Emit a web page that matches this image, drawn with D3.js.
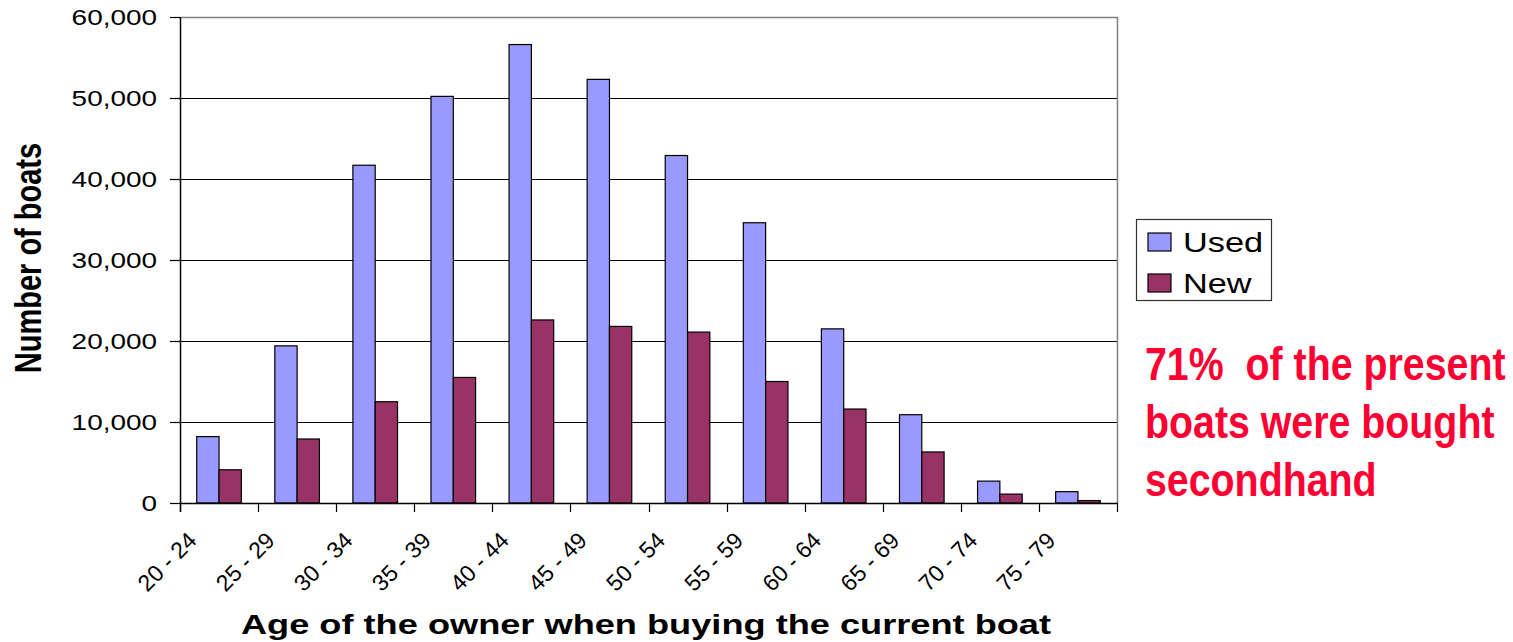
<!DOCTYPE html>
<html>
<head>
<meta charset="utf-8">
<script src="https://cdn.jsdelivr.net/npm/d3@7"></script>
<style>
  html, body { margin: 0; padding: 0; background: #fff; }
  svg { display: block; }
  text { font-family: Arial, "Liberation Sans", sans-serif; }
  .note { white-space: pre; }
</style>
</head>
<body>
<svg id="chart" width="1513" height="642"></svg>
<script>
// Boats by age of owner at purchase
const categories = ["20 - 24","25 - 29","30 - 34","35 - 39","40 - 44","45 - 49","50 - 54","55 - 59","60 - 64","65 - 69","70 - 74","75 - 79"];
const usedValues = [8200, 19400, 41700, 50200, 56600, 52300, 42900, 34600, 21500, 10900, 2700, 1400];
const newValues  = [4100, 7900, 12500, 15500, 22600, 21800, 21100, 15000, 11600, 6300, 1100, 300];
const seriesNames = ["Used", "New"];
const yTicks = [0, 10000, 20000, 30000, 40000, 50000, 60000];
const noteLines = ["71%  of the present", "boats were bought", "secondhand"];

const colors = { Used: "#9999FF", New: "#993366" };
const stretch = 1.27; // horizontal stretch of the chart's text

const svg = d3.select("#chart");
const plot = { left: 180, right: 1117, top: 17, bottom: 503 };

const x0 = d3.scaleBand().domain(categories).range([plot.left, plot.right]).paddingInner(0).paddingOuter(0);
const bw = x0.bandwidth();
const x1 = d3.scaleBand().domain(seriesNames).range([bw * 0.75 / 3.5, bw * 2.75 / 3.5]).padding(0);
const y = d3.scaleLinear().domain([0, 60000]).range([plot.bottom, plot.top]);

const fmt = d3.format(",");

// gridlines
svg.append("g").selectAll("line")
  .data(yTicks.filter(t => t > 0 && t < 60000))
  .join("line")
  .attr("x1", plot.left).attr("x2", plot.right)
  .attr("y1", d => Math.round(y(d)) + 0.5).attr("y2", d => Math.round(y(d)) + 0.5)
  .attr("stroke", "#000").attr("stroke-width", 1);

// plot border (top + right)
svg.append("path")
  .attr("d", `M${plot.left},${y(60000) + 0.5}H${plot.right + 0.5}V${plot.bottom}`)
  .attr("fill", "none").attr("stroke", "#808080").attr("stroke-width", 1.5);

// bars
const rows = categories.map((c, i) => ({ cat: c, Used: usedValues[i], New: newValues[i] }));
const groups = svg.append("g").selectAll("g")
  .data(rows).join("g")
  .attr("transform", d => `translate(${x0(d.cat)},0)`);
groups.selectAll("rect")
  .data(d => seriesNames.map(k => ({ key: k, value: d[k] })))
  .join("rect")
  .attr("x", d => x1(d.key))
  .attr("width", x1.bandwidth())
  .attr("y", d => y(d.value))
  .attr("height", d => y(0) - y(d.value))
  .attr("fill", d => colors[d.key])
  .attr("stroke", "#000").attr("stroke-width", 1.2);

// y axis
const yAxis = svg.append("g");
yAxis.append("line")
  .attr("x1", plot.left + 0.5).attr("x2", plot.left + 0.5)
  .attr("y1", plot.top).attr("y2", plot.bottom + 9)
  .attr("stroke", "#000").attr("stroke-width", 1.5);
yAxis.selectAll("line.tick")
  .data(yTicks).join("line").attr("class", "tick")
  .attr("x1", plot.left - 10).attr("x2", plot.left)
  .attr("y1", d => Math.round(y(d)) + 0.5).attr("y2", d => Math.round(y(d)) + 0.5)
  .attr("stroke", "#000").attr("stroke-width", 1.2);
yAxis.selectAll("text")
  .data(yTicks).join("text")
  .attr("transform", d => `translate(157,${y(d) + 8}) scale(${stretch},1)`)
  .attr("text-anchor", "end")
  .attr("font-size", 22)
  .attr("fill", "#000")
  .text(d => fmt(d));

// x axis
const xAxis = svg.append("g");
xAxis.append("line")
  .attr("x1", plot.left).attr("x2", plot.right + 1)
  .attr("y1", plot.bottom + 0.5).attr("y2", plot.bottom + 0.5)
  .attr("stroke", "#000").attr("stroke-width", 1.5);
const tickPos = categories.map(c => x0(c)).concat([plot.right]);
xAxis.selectAll("line.tick")
  .data(tickPos).join("line").attr("class", "tick")
  .attr("x1", d => Math.round(d) + 0.5).attr("x2", d => Math.round(d) + 0.5)
  .attr("y1", plot.bottom).attr("y2", plot.bottom + 9)
  .attr("stroke", "#000").attr("stroke-width", 1.2);
xAxis.selectAll("text")
  .data(categories).join("text")
  .attr("transform", d => `translate(${x0(d) + 18},${plot.bottom + 39}) rotate(-45)`)
  .attr("text-anchor", "end")
  .attr("font-size", 23)
  .attr("fill", "#000")
  .text(d => d);

// axis titles
svg.append("text")
  .attr("transform", `translate(646,634) scale(${stretch},1)`)
  .attr("text-anchor", "middle")
  .attr("font-size", 28.5).attr("font-weight", "bold")
  .text("Age of the owner when buying the current boat");
svg.append("text")
  .attr("transform", `translate(41,258) scale(${stretch},1) rotate(-90)`)
  .attr("text-anchor", "middle")
  .attr("font-size", 29).attr("font-weight", "bold")
  .text("Number of boats");

// legend
const legend = svg.append("g");
legend.append("rect")
  .attr("x", 1136.5).attr("y", 219.5).attr("width", 135).attr("height", 81)
  .attr("fill", "#fff").attr("stroke", "#333").attr("stroke-width", 1.2);
const items = legend.selectAll("g.item")
  .data(seriesNames).join("g").attr("class", "item")
  .attr("transform", (d, i) => `translate(1148,${233 + i * 41})`);
items.append("rect")
  .attr("width", 23).attr("height", 18)
  .attr("fill", d => colors[d]).attr("stroke", "#000").attr("stroke-width", 1.2);
items.append("text")
  .attr("transform", `translate(35,19) scale(${stretch},1)`)
  .attr("font-size", 27)
  .text(d => d);

// annotation
svg.append("g")
  .selectAll("text")
  .data(noteLines).join("text")
  .attr("class", "note")
  .attr("xml:space", "preserve")
  .attr("transform", (d, i) => `translate(1145,${380 + i * 58}) scale(0.855,1)`)
  .attr("font-size", 46).attr("font-weight", "bold")
  .attr("fill", "#FF0033")
  .text(d => d);
</script>
</body>
</html>
